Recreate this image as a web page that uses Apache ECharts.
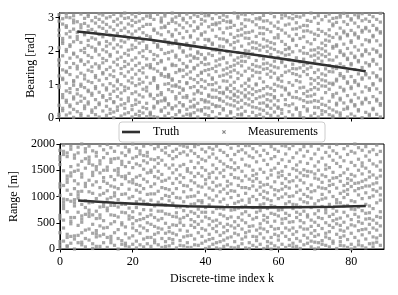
<!DOCTYPE html>
<html>
<head>
<meta charset="utf-8">
<script src="https://cdn.jsdelivr.net/npm/echarts@6/dist/echarts.min.js"></script>
<style>html,body{margin:0;padding:0;background:#fff}#c{width:398px;height:295px}</style>
</head>
<body>
<div id="c"></div>
<script>
// ---- data ----
const xTicks = [0, 20, 40, 60, 80];
const bearingTicks = [0, 1, 2, 3];
const rangeTicks = [0, 500, 1000, 1500, 2000];

// Truth trajectory (k, bearing [rad], range [m])
const truthK = [5, 15, 25, 35, 45, 55, 65, 75, 84];
const truthBearing = [2.59, 2.47, 2.34, 2.18, 2.02, 1.87, 1.71, 1.55, 1.40];
const truthRange = [925, 880, 845, 815, 800, 792, 795, 805, 820];

// Measurements per time index k = 0..88 ; bearing in 1/100 rad
const bearingMeasCenti = [
[4,11,38,92,97,126,158,171,175,210,247,263,290,309],
[22,29,61,70,115,119,144,186,223,230,238,281,297],
[9,47,53,81,104,137,140,166,199,205,252,271,276,302,312],
[15,34,39,76,88,130,151,179,214,219,242,259,300],
[2,26,57,63,98,108,112,163,191,194,228,266,285,293,306],
[19,44,72,85,123,147,155,183,235,244,256,288],
[7,13,50,66,95,101,134,170,174,202,226,270,279,311],
[28,36,59,91,117,128,160,196,208,249,254,283,298],
[5,42,48,79,83,110,143,168,187,217,232,261,275,304,310],
[17,24,68,74,106,139,153,181,212,240,265,291],
[10,31,55,88,94,121,127,162,200,207,236,257,284,301],
[3,40,45,77,113,149,156,189,221,225,250,273,295,312],
[21,62,67,99,132,136,165,178,204,243,268,287,308],
[8,35,52,84,90,118,145,172,198,215,229,259,280,299],
[14,26,58,71,103,129,152,185,190,222,248,272,303],
[1,18,46,49,80,96,124,141,167,209,234,239,264,289,310],
[23,33,64,87,109,114,159,176,197,219,253,278,296],
[6,39,56,75,100,133,148,182,213,231,262,285,306],
[12,29,43,82,93,125,154,169,193,227,245,269,298,314],
[16,51,60,89,111,138,161,188,203,237,258,281,300],
[3,25,37,73,105,120,146,173,206,218,251,276,292,311],
[11,41,54,78,97,131,157,180,211,233,260,286,303],
[7,20,47,69,102,116,142,164,195,224,241,267,290,313],
[15,32,63,86,107,135,150,184,201,230,255,274,297],
[4,28,44,81,92,122,158,177,208,216,247,280,305],
[9,13,17,66,71,104,150,153,160,199,238,243,280,301,308],
[4,30,35,58,112,118,121,147,175,190,226,262,266,295],
[2,45,49,68,88,93,97,140,163,186,212,215,219,254,310],
[20,24,51,70,76,128,133,168,172,205,249,270,287,291,299],
[6,31,52,56,60,101,124,146,149,193,234,271,275,305,312],
[14,39,43,85,103,122,126,130,177,196,221,227,258,283],
[1,27,31,79,96,113,117,157,161,200,222,245,250,289,296,314],
[10,36,57,64,95,99,136,157,182,188,229,232,264,285,302],
[18,22,46,74,92,109,141,145,174,210,214,253,278,307],
[5,36,40,62,83,87,124,143,163,197,201,240,270,293,298],
[11,26,61,67,103,106,131,152,155,185,218,223,259,285,311],
[8,12,33,50,91,119,138,170,188,207,242,246,276,300],
[16,33,38,56,72,94,115,147,151,179,183,225,261,288,309],
[3,24,44,78,82,106,127,158,178,194,198,236,268,272,304],
[21,25,55,74,94,115,134,137,166,190,211,248,252,281,295,313],
[11,31,48,53,89,110,142,160,176,180,216,235,257,290,306],
[7,30,48,65,69,100,129,145,162,192,231,235,273,306,310],
[19,41,62,84,100,116,120,148,187,204,220,224,263,280,297],
[2,34,37,62,83,105,139,155,171,203,206,244,279,284,312],
[13,35,54,58,76,92,125,159,176,195,215,237,267,285,301],
[24,28,50,73,77,111,128,144,178,181,213,236,255,292,308],
[6,42,63,86,90,110,132,149,165,199,228,232,269,288,303],
[15,19,39,59,79,98,123,138,154,189,219,251,271,286,290],
[1,36,52,67,71,88,107,143,158,173,209,226,241,277,314],
[10,27,47,63,80,118,135,164,180,196,230,246,262,299,305],
[9,12,32,53,75,96,128,156,170,184,215,248,266,282,311],
[20,43,63,68,85,104,140,169,186,202,239,255,274,294,309],
[4,39,57,75,95,113,117,149,181,200,222,238,256,293],
[17,33,49,70,87,126,143,160,192,210,227,260,288,312],
[7,31,58,79,99,102,137,155,172,208,225,244,279,297],
[11,27,44,63,82,119,136,153,186,203,218,253,270,296,300],
[2,23,45,66,88,108,146,162,177,212,236,252,270,290,307],
[14,35,38,55,72,94,131,148,164,199,215,231,265,291],
[8,29,51,70,89,122,140,158,190,209,226,258,284,313],
[18,39,60,64,82,101,134,153,170,205,222,240,275,303],
[5,29,33,52,96,115,120,150,182,198,240,249,268,287],
[14,25,68,93,110,127,166,170,195,229,263,299,310],
[2,40,55,84,89,137,155,188,205,220,254,278,306],
[19,37,70,74,106,141,174,190,207,211,245,281,300],
[9,42,62,98,133,148,161,198,232,236,266,297,312],
[26,30,61,79,112,130,147,180,217,250,267,285,304],
[7,16,57,90,108,125,150,168,201,238,272,302],
[1,34,52,73,92,139,158,176,194,211,243,260,277,308],
[21,27,47,65,80,130,147,163,193,228,261,276,292],
[6,48,66,85,102,118,152,185,203,222,257,289,314],
[14,32,52,71,91,113,136,171,188,204,235,251,300],
[3,31,50,86,103,121,144,179,195,210,247,265,283,306],
[11,22,41,59,96,114,132,170,189,207,224,259,294],
[19,38,76,95,111,128,147,184,200,217,233,252,304],
[10,30,50,86,104,139,157,174,191,230,246,264,290,311],
[2,6,24,63,70,100,104,138,150,173,209,214,241,276,281,298],
[18,39,44,74,111,116,148,155,183,215,219,252,286,300],
[8,15,54,59,92,127,133,162,196,201,237,242,269,302,309],
[26,45,81,86,119,124,154,187,191,221,255,260,288,313],
[3,28,33,67,104,108,140,175,179,208,246,250,280,305],
[12,49,53,88,93,124,159,163,194,226,231,262,293,297],
[5,36,40,71,107,112,145,181,185,213,249,254,284,309],
[21,25,60,97,101,132,168,172,203,239,243,273,300,306],
[1,42,47,78,116,120,151,186,190,219,257,262,291,312],
[17,55,59,93,129,133,165,199,204,234,267,271,296],
[7,11,46,83,88,120,156,160,192,228,232,260,289,310],
[25,29,64,99,103,135,170,175,206,243,247,277,303],
[11,51,56,87,123,127,161,197,201,231,264,268,295],
[3,38,43,76,112,116,147,184,188,218,254,258,287,313]
];

// Measurements per time index k = 0..88 ; range in units of 10 m
const rangeMeasDeca = [
[2,8,14,31,58,64,102,118,124,161,170,176,188],
[15,40,77,83,89,95,121,149,180,186,198,55],
[6,22,28,71,112,127,133,139,176,183,5,94],
[11,48,53,60,91,139,145,157,190,196,104,24],
[0,19,25,82,88,94,115,148,173,179,60,130],
[26,45,70,97,103,109,124,160,194,12,150,183],
[8,13,51,57,63,110,137,143,167,200,85,31],
[4,36,79,92,119,125,154,185,191,66,172,20],
[17,62,68,74,131,163,169,175,196,38,109,88],
[1,10,47,89,106,140,146,187,122,30,160,65],
[23,29,35,72,96,151,157,177,184,58,5,128],
[5,44,59,65,103,117,145,162,168,197,80,25],
[28,54,81,87,129,136,174,189,12,106,150,40],
[3,41,73,78,111,125,150,156,182,199,22,95],
[12,18,24,65,98,120,165,171,193,48,138,83],
[7,52,83,101,107,132,172,186,31,64,150,118],
[0,37,61,94,141,147,153,198,20,80,115,173],
[16,46,50,85,123,161,167,183,104,9,70,138],
[6,11,42,69,105,134,139,157,194,29,85,178],
[21,57,63,97,114,144,185,189,4,78,128,165],
[9,40,48,71,126,132,155,173,200,25,100,60],
[2,15,54,79,112,137,162,192,35,90,176,123],
[30,44,67,95,121,159,181,187,8,108,140,56],
[4,19,58,91,133,152,168,196,40,75,115,178],
[10,35,62,86,104,128,164,177,184,50,145,22],
[22,47,74,93,119,146,150,199,5,65,171,105],
[17,28,82,124,138,156,191,43,105,60,12,170],
[8,31,55,89,110,135,163,174,195,72,148,40],
[20,38,72,96,117,142,169,188,3,58,129,85],
[14,49,84,102,131,160,183,193,30,67,115,5],
[33,41,66,92,113,154,178,198,6,20,135,100],
[11,18,46,87,106,145,172,186,62,125,30,160],
[27,61,69,98,134,151,176,190,2,45,115,80],
[16,50,57,80,127,141,158,182,97,36,198,7],
[6,23,73,90,109,136,161,185,45,121,196,60],
[12,34,64,81,99,148,153,179,194,25,120,3],
[3,26,56,85,113,130,167,187,45,145,71,100],
[19,41,68,101,126,155,182,195,8,86,138,52],
[7,31,47,76,108,144,164,176,199,62,120,92],
[24,53,88,92,118,139,171,190,11,39,155,70],
[15,36,61,79,103,132,150,185,1,70,124,168],
[4,28,46,84,97,116,143,175,193,58,136,18],
[20,39,70,112,127,160,181,9,53,93,146,190],
[12,33,55,77,101,135,153,173,196,44,120,2],
[0,26,49,66,90,122,145,167,188,14,109,78],
[17,42,63,95,114,138,162,184,31,76,150,5],
[8,35,58,83,106,129,157,178,199,47,120,21],
[23,44,74,98,124,142,170,192,3,61,111,155],
[14,30,52,87,110,136,164,180,40,75,151,2],
[5,27,60,78,102,121,155,186,197,45,135,90],
[19,38,67,93,117,148,171,10,55,130,189,80],
[2,31,50,82,106,139,160,183,23,71,117,197],
[12,43,64,89,115,133,158,177,197,34,95,1],
[7,24,57,79,100,129,150,174,191,44,120,140],
[16,36,70,94,112,143,166,185,3,60,134,23],
[9,29,48,73,104,127,152,178,198,84,40,118],
[1,21,55,86,98,122,146,169,188,38,110,64],
[14,33,60,77,107,135,161,182,5,51,123,95],
[22,43,68,92,118,141,172,195,11,83,150,0],
[6,28,53,81,103,128,154,176,38,113,190,66],
[17,39,63,96,111,137,163,186,2,74,145,25],
[9,31,49,75,99,125,148,170,197,57,114,140],
[3,24,58,86,105,134,157,181,40,68,119,196],
[18,36,64,90,116,142,167,191,7,51,128,100],
[11,28,52,77,101,130,153,174,197,40,85,4],
[5,33,60,84,108,137,160,183,20,70,120,150],
[15,42,66,95,112,145,166,189,1,54,131,80],
[8,26,50,72,104,126,151,177,195,38,90,140],
[21,38,61,88,115,139,163,186,11,65,148,100],
[4,30,55,79,97,122,147,172,196,43,109,15],
[13,35,67,86,111,135,158,181,24,51,143,0],
[2,27,45,73,92,118,150,166,190,60,133,12],
[16,39,58,81,104,127,141,173,198,9,95,116],
[7,23,50,69,97,115,138,160,184,30,75,152],
[20,33,62,85,109,130,155,177,194,4,121,45],
[11,41,54,78,100,123,146,169,187,66,15,135],
[1,28,48,72,94,116,136,163,182,199,57,88],
[14,36,59,88,106,129,157,175,7,45,140,22],
[6,25,51,70,98,121,145,168,191,82,34,110],
[18,40,63,83,113,134,152,180,197,3,104,125],
[9,30,56,76,92,119,142,165,186,46,131,0],
[3,22,44,66,90,111,139,159,183,200,75,125],
[15,35,61,80,103,126,150,171,193,52,8,115],
[6,27,49,73,96,117,143,164,188,37,129,158],
[19,38,57,85,107,132,154,177,195,2,68,120],
[10,31,47,69,98,120,147,169,185,82,137,58],
[4,23,55,77,101,124,141,162,189,40,113,11],
[13,36,62,88,110,135,158,180,198,49,21,126],
[7,26,44,71,93,116,139,166,186,60,150,103]
];

// ---- build ----
const FONT = 'Liberation Serif';
const bearingPts = [], rangePts = [];
bearingMeasCenti.forEach((col, k) => col.forEach(v => bearingPts.push([k, v / 100])));
rangeMeasDeca.forEach((col, k) => col.forEach(v => rangePts.push([k, v * 10])));
const truthB = truthK.map((k, i) => [k, truthBearing[i]]);
const truthR = truthK.map((k, i) => [k, truthRange[i]]);

const measStyle = { color: '#909090' };
const axLine = { show: true, onZero: false, lineStyle: { color: '#000', width: 1 } };
const tick = (vals) => ({ show: true, inside: false, length: 3.5, customValues: vals, lineStyle: { color: '#000', width: 1 } });
const lab = (vals, show) => ({ show: show, customValues: vals, color: '#000', fontFamily: FONT, fontSize: 12, margin: 5, formatter: v => String(v) });

const chart = echarts.init(document.getElementById('c'), null, { renderer: 'canvas' });
chart.setOption({
  animation: false,
  backgroundColor: '#fff',
  grid: [
    { left: 59, top: 13, width: 325, height: 105, show: true, borderColor: '#000', borderWidth: 1, backgroundColor: 'transparent' },
    { left: 59, top: 144, width: 325, height: 105, show: true, borderColor: '#000', borderWidth: 1, backgroundColor: 'transparent' }
  ],
  xAxis: [
    { gridIndex: 0, type: 'value', min: 0, max: 89, axisLine: axLine, axisTick: tick(xTicks), axisLabel: lab(xTicks, false), splitLine: { show: false } },
    { gridIndex: 1, type: 'value', min: 0, max: 89, axisLine: axLine, axisTick: tick(xTicks), axisLabel: Object.assign(lab(xTicks, true), { margin: 7 }), splitLine: { show: false },
      name: 'Discrete-time index k', nameLocation: 'middle', nameGap: 24, nameTextStyle: { color: '#000', fontFamily: FONT, fontSize: 12 } }
  ],
  yAxis: [
    { gridIndex: 0, type: 'value', min: 0, max: Math.PI, axisLine: axLine, axisTick: tick(bearingTicks), axisLabel: lab(bearingTicks, true), splitLine: { show: false },
      name: 'Bearing [rad]', nameLocation: 'middle', nameGap: 19, nameTextStyle: { color: '#000', fontFamily: FONT, fontSize: 12 } },
    { gridIndex: 1, type: 'value', min: 0, max: 2000, axisLine: axLine, axisTick: tick(rangeTicks), axisLabel: lab(rangeTicks, true), splitLine: { show: false },
      name: 'Range [m]', nameLocation: 'middle', nameGap: 39, nameTextStyle: { color: '#000', fontFamily: FONT, fontSize: 12 } }
  ],
  series: [
    { name: 'Measurements', type: 'scatter', xAxisIndex: 0, yAxisIndex: 0, data: bearingPts, symbol: 'rect', symbolSize: 3.2, itemStyle: measStyle, z: 2, silent: true },
    { name: 'Measurements', type: 'scatter', xAxisIndex: 1, yAxisIndex: 1, data: rangePts, symbol: 'rect', symbolSize: 3.2, itemStyle: measStyle, z: 2, silent: true },
    { name: 'Truth', type: 'line', xAxisIndex: 0, yAxisIndex: 0, data: truthB, symbol: 'none', lineStyle: { color: '#303030', width: 2.6 }, z: 3 },
    { name: 'Truth', type: 'line', xAxisIndex: 1, yAxisIndex: 1, data: truthR, symbol: 'none', lineStyle: { color: '#303030', width: 2.6 }, z: 3 }
  ],
  graphic: [
    { type: 'rect', shape: { x: 119, y: 122, width: 206, height: 20, r: 3 }, style: { fill: 'rgba(255,255,255,0.85)', stroke: '#cccccc', lineWidth: 1 }, z: 10 },
    { type: 'line', shape: { x1: 122, y1: 132, x2: 140, y2: 132 }, style: { stroke: '#303030', lineWidth: 2.6 }, z: 11 },
    { type: 'text', x: 153, y: 132, style: { text: 'Truth', fill: '#000', font: '12px "Liberation Serif"', textVerticalAlign: 'middle', verticalAlign: 'middle' }, z: 11 },
    { type: 'line', shape: { x1: 222.4, y1: 130.4, x2: 225.6, y2: 133.6 }, style: { stroke: '#8a8a8a', lineWidth: 1.2 }, z: 11 },
    { type: 'line', shape: { x1: 222.4, y1: 133.6, x2: 225.6, y2: 130.4 }, style: { stroke: '#8a8a8a', lineWidth: 1.2 }, z: 11 },
    { type: 'text', x: 248, y: 132, style: { text: 'Measurements', fill: '#000', font: '12px "Liberation Serif"', textVerticalAlign: 'middle', verticalAlign: 'middle' }, z: 11 }
  ]
});
</script>
</body>
</html>
